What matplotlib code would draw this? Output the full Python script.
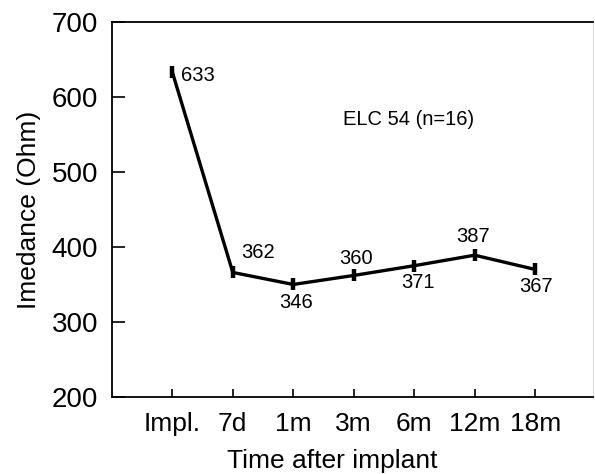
import matplotlib.pyplot as plt
import numpy as np

plt.rcParams['font.family'] = ['Liberation Sans', 'DejaVu Sans']

# data
times = ["Impl.", "7d", "1m", "3m", "6m", "12m", "18m"]
impedance = [633, 366, 350, 362, 375, 389, 370]      # plotted points
labels = ["633", "362", "346", "360", "371", "387", "367"]  # printed values
# label offset in pixels (dx, dy) and horizontal alignment
offsets = [(9, -3, 'left'), (8, 20, 'left'), (3, -18, 'center'), (2, 17, 'center'),
           (4, -17, 'center'), (-2, 19, 'center'), (1, -17, 'center')]

fig = plt.figure(figsize=(5.95, 4.74), dpi=100)
ax = fig.add_axes([0.188, 0.1624, 0.809, 0.7916])

x = np.arange(len(times))
ax.plot(x, impedance, color='black', lw=2.4, marker='|', markersize=8.6,
        markeredgewidth=3.2, solid_joinstyle='miter')

for xi, yi, lab, (dx, dy, ha) in zip(x, impedance, labels, offsets):
    ax.annotate(lab, (xi, yi), xytext=(dx, dy), textcoords='offset pixels',
                ha=ha, va='center', fontsize=14.5)

ax.text(2.83, 570, "ELC 54 (n=16)", fontsize=14.5, ha='left', va='center')

ax.set_xlim(-1, 6.96)
ax.set_ylim(200, 700)
ax.set_xticks(x)
ax.set_xticklabels(times)
ax.set_yticks(range(200, 701, 100))

ax.tick_params(axis='x', direction='in', length=6, width=1.2, labelsize=19, pad=11)
ax.tick_params(axis='y', direction='in', length=9.5, width=1.2, labelsize=20, pad=10)

for side in ['left', 'bottom', 'top']:
    ax.spines[side].set_linewidth(1.3)
ax.spines['right'].set_color('#dddddd')

ax.set_xlabel("Time after implant", fontsize=19)
ax.set_ylabel("Imedance (Ohm)", fontsize=19)
ax.xaxis.set_label_coords(0.457, -0.138)
ax.yaxis.set_label_coords(-0.148, 0.5)

fig.savefig("out.png", dpi=100)
